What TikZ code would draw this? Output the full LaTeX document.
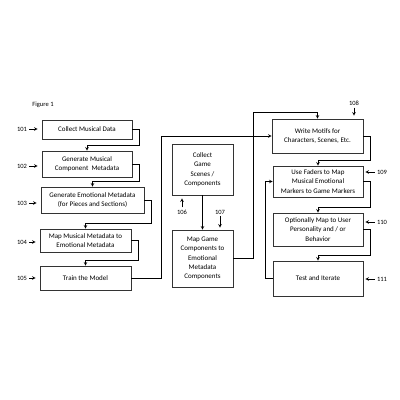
\documentclass[tikz,border=0pt]{standalone}
\usepackage{fontspec}
\setmainfont{Carlito}
\usetikzlibrary{calc}

\begin{document}
\begin{tikzpicture}[x=1pt,y=-1pt,>=stealth,line width=0.6pt]
	\tikzstyle{box}=[rectangle, draw=black!80, line width=0.7pt, align=center, inner sep=1pt, font=\fontsize{7}{9.3}\selectfont]
	\tikzstyle{num}=[inner sep=2pt, font=\fontsize{6.5}{8}\selectfont]

	\useasboundingbox (0,0) rectangle (400,400);
	\node[num] (fig) at (43,105) {Figure 1};

	% music column
	\node[box, minimum width=90pt, minimum height=19pt] (m101) at (87,129.5) {Collect Musical Data};
	\node[box, minimum width=90pt, minimum height=26pt] (m102) at (87,164) {Generate Musical\\Component\ \ Metadata};
	\node[box, minimum width=103pt, minimum height=26pt] (m103) at (92.5,200) {Generate Emotional Metadata\\(for Pieces and Sections)};
	\node[box, minimum width=91pt, minimum height=23pt] (m104) at (85.5,240.5) {Map Musical Metadata to\\Emotional Metadata};
	\node[box, minimum width=91pt, minimum height=24pt] (m105) at (85.5,278) {Train the Model};

	% game column
	\node[box, minimum width=61pt, minimum height=51pt] (g106) at (202.5,169.5) {Collect\\Game\\Scenes /\\Components};
	\node[box, minimum width=61pt, minimum height=57pt] (g107) at (202.5,258.5) {Map Game\\Components to\\Emotional\\Metadata\\Components};

	% score column
	\node[box, minimum width=91pt, minimum height=34pt] (s108) at (317.5,136) {Write Motifs for\\Characters, Scenes, Etc.};
	\node[box, minimum width=90pt, minimum height=31pt] (s109) at (318,181.5) {Use Faders to Map\\Musical Emotional\\Markers to Game Markers};
	\node[box, minimum width=90pt, minimum height=33pt] (s110) at (318,229.5) {Optionally Map to User\\Personality and / or\\Behavior};
	\node[box, minimum width=90pt, minimum height=35pt] (s111) at (318,278.5) {Test and Iterate};

	\foreach \from/\to in {m101/m102,m102/m103,m103/m104,m104/m105,s108/s109,s109/s110,s110/s111}
		\draw[->] (\from.east) -- ++(7,0) |- ($(\to.north)+(0,-5)$) -- (\to.north);

	\draw[->] (m105.east) -- ++(30,0) |- (s108.west);
	\draw[->] (g106.south) -- (g107.north);
	\draw[->] (g107.east) -- ++(20,0) |- ($(s108.north)+(0,-6)$) -- (s108.north);
	\draw[->] (s111.west) -- ++(-7,0) |- (s109.west);

	% reference numbers
	\foreach \n/\y in {101/129,102/166,103/203,104/242,105/278}{
		\node[num] (l\n) at (22,\y) {\n};
		\draw[->] (l\n.east) -- ($(l\n.east -| m\n.west)+(-4,0)$);
	}
	\node[num] (l106) at (182,212) {106};
	\draw[->] (l106.north) -- ($(l106.north |- g106.south)+(0,3)$);
	\node[num] (l107) at (220,212) {107};
	\draw[->] (l107.south) -- ($(l107.south |- g107.north)+(0,-2)$);
	\node[num] (l108) at (354,103) {108};
	\draw[->] (l108.south) -- ($(l108.south |- s108.north)+(0,-3)$);
	\foreach \n/\y in {109/172,110/222,111/279}{
		\node[num] (l\n) at (382,\y) {\n};
		\draw[->] (l\n.west) -- ($(l\n.west -| s\n.east)+(2,0)$);
	}
\end{tikzpicture}
\end{document}
